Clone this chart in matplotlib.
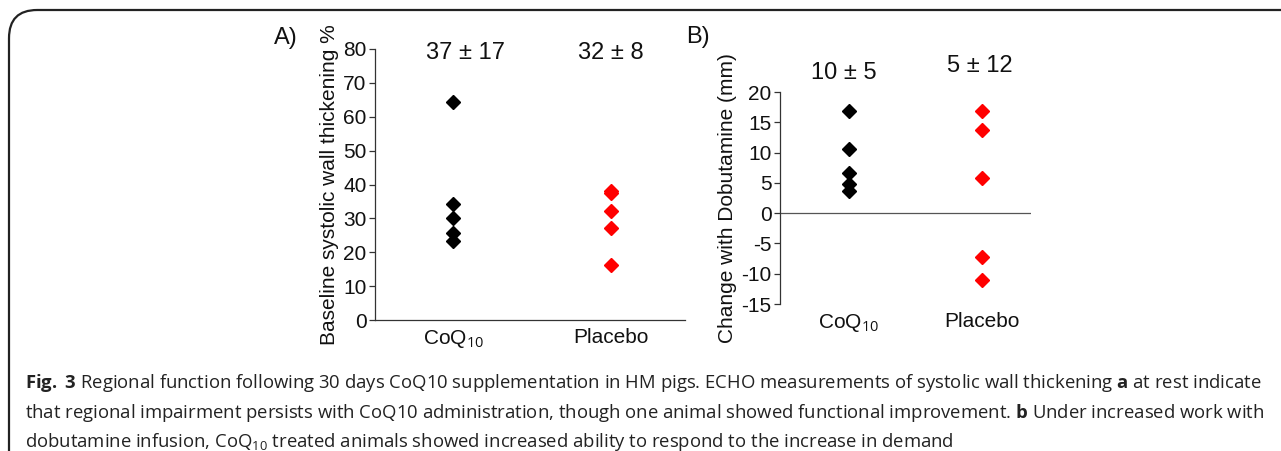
import matplotlib
matplotlib.use("Agg")
import matplotlib.pyplot as plt
from matplotlib.patches import FancyBboxPatch

# data
groups = ["CoQ$_{10}$", "Placebo"]

rest_coq = [64.5, 34.3, 30.2, 25.6, 23.3]
rest_placebo = [38.2, 37.4, 32.3, 27.3, 16.3]
rest_yticks = [0, 10, 20, 30, 40, 50, 60, 70, 80]
rest_notes = ["37 \u00b1 17", "32 \u00b1 8"]

dob_coq = [16.8, 10.6, 6.7, 4.8, 3.7]
dob_placebo = [16.8, 13.8, 5.8, -7.2, -11.1]
dob_yticks = [-15, -10, -5, 0, 5, 10, 15, 20]
dob_notes = ["10 \u00b1 5", "5 \u00b1 12"]

caption_lines = [
    r"$\mathbf{Fig.}$ $\mathbf{3}$ Regional function following 30 days CoQ10 supplementation in HM pigs. "
    r"ECHO measurements of systolic wall thickening $\mathbf{a}$ at rest indicate",
    r"that regional impairment persists with CoQ10 administration, though one animal showed "
    r"functional improvement. $\mathbf{b}$ Under increased work with",
    r"dobutamine infusion, CoQ$_{10}$ treated animals showed increased ability to respond "
    r"to the increase in demand",
]

plt.rcParams["font.family"] = ["Liberation Sans", "DejaVu Sans"]
plt.rcParams["mathtext.fontset"] = "custom"
plt.rcParams["mathtext.rm"] = "Open Sans"
plt.rcParams["mathtext.bf"] = "Open Sans:bold"

W, H = 1281, 451
fig = plt.figure(figsize=(W / 100, H / 100), dpi=100)

AX_COLOR = "#333333"
TXT = "#111111"
NOTE_SIZE = 17


def box(left, top, right, bottom):
    return [left / W, 1 - bottom / H, (right - left) / W, (bottom - top) / H]


def style_axis(ax, yticks):
    ax.set_yticks(yticks)
    ax.set_yticklabels([str(t) for t in yticks])
    ax.set_xticks([1, 2])
    ax.set_xticklabels(groups)
    ax.spines["top"].set_visible(False)
    ax.spines["right"].set_visible(False)
    ax.spines["left"].set_color(AX_COLOR)
    ax.spines["left"].set_linewidth(0.9)
    ax.tick_params(axis="y", direction="out", length=4, width=0.9, color=AX_COLOR,
                   labelsize=15, labelcolor=TXT, pad=2)
    ax.tick_params(axis="x", length=0, labelsize=15, labelcolor=TXT, pad=6)
    ax.set_facecolor("none")


# panel A
ax1 = fig.add_axes(box(375, 49, 685, 320))
ax1.plot([1] * len(rest_coq), rest_coq, "D", color="black", ms=7, ls="none")
ax1.plot([2] * len(rest_placebo), rest_placebo, "D", color="red", ms=7, ls="none")
ax1.set_ylim(0, 80)
ax1.set_xlim(0.503, 2.47)
style_axis(ax1, rest_yticks)
ax1.spines["bottom"].set_color(AX_COLOR)
ax1.spines["bottom"].set_linewidth(0.9)
ax1.set_ylabel("Baseline systolic wall thickening %", fontsize=15, color=TXT, labelpad=3)
for x, note in zip([1.08, 2.0], rest_notes):
    ax1.annotate(note, xy=(x, 80), xycoords="data", xytext=(0, -3),
                 textcoords="offset points", ha="center", va="center",
                 fontsize=NOTE_SIZE, color=TXT)
fig.text(286 / W, 1 - 38 / H, "A)", fontsize=17, color=TXT, ha="center", va="center")

# panel B
ax2 = fig.add_axes(box(780, 92, 1031, 304))
ax2.plot([1] * len(dob_coq), dob_coq, "D", color="black", ms=7, ls="none")
ax2.plot([2] * len(dob_placebo), dob_placebo, "D", color="red", ms=7, ls="none")
ax2.set_ylim(-15, 20)
ax2.set_xlim(0.481, 2.368)
style_axis(ax2, dob_yticks)
ax2.spines["bottom"].set_visible(False)
ax2.axhline(0, color="#555555", lw=0.9)
ax2.set_ylabel("Change with Dobutamine (mm)", fontsize=15, color=TXT, labelpad=3)
ax2.annotate(dob_notes[0], xy=(0.96, 20), xytext=(0, 14), textcoords="offset points",
             ha="center", va="center", fontsize=NOTE_SIZE, color=TXT)
ax2.annotate(dob_notes[1], xy=(1.98, 20), xytext=(0, 19), textcoords="offset points",
             ha="center", va="center", fontsize=NOTE_SIZE, color=TXT)
fig.text(698 / W, 1 - 37 / H, "B)", fontsize=17, color=TXT, ha="center", va="center")

# caption
for i, line in enumerate(caption_lines):
    fig.text(25 / W, 1 - (383 + 29.5 * i) / H, line, fontsize=13.3, color="#222222",
             family="Open Sans", ha="left", va="center")

# rounded frame
frame = FancyBboxPatch((9 / W, -0.2), 1.2, 1 - 10 / H + 0.2,
                       boxstyle="round,pad=0,rounding_size=0.022",
                       transform=fig.transFigure, fill=False, lw=1.6,
                       edgecolor="#222222", mutation_aspect=W / H)
fig.patches.append(frame)

fig.savefig("out.png", dpi=100)
